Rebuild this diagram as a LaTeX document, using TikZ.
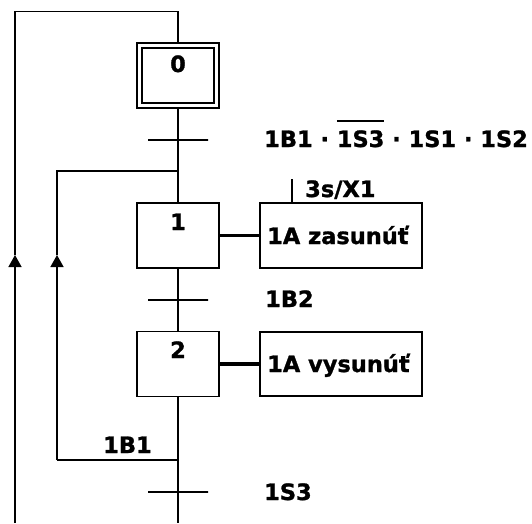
\documentclass[tikz,border=0pt]{standalone}
\usepackage{fontspec}
\setmainfont{DejaVu Sans}[BoldFeatures={FakeBold=1.2}]
\usetikzlibrary{arrows.meta,calc}
\newcommand\myovl[1]{\setbox0\hbox{#1}\rlap{\rule[25pt]{\wd0}{2pt}}\box0\relax}
\begin{document}
\begin{tikzpicture}[x=1pt,y=-1pt,
  flow/.style={line width=1.5pt},
  thickcon/.style={line width=3.5pt},
  stepbox/.style={draw, line width=1.5pt, minimum width=82pt, minimum height=65pt, inner sep=0pt, outer sep=0pt},
  initbox/.style={draw, line width=1.4pt, double, double distance=3.6pt, minimum width=77pt, minimum height=60pt, inner sep=0pt, outer sep=3.2pt},
  actbox/.style={draw, line width=1.5pt, minimum width=162pt, minimum height=65pt, inner sep=0pt, outer sep=0pt},
  transbar/.style={draw, line width=1.3pt, minimum width=60pt, minimum height=0pt, inner sep=0pt, outer sep=0pt},
  lab/.style={font=\bfseries\fontsize{22.5}{27}\selectfont, inner sep=0pt, anchor=base west},
  num/.style={font=\bfseries\fontsize{22.5}{27}\selectfont, inner sep=0pt, anchor=base},
  uparrow/.style={flow, -{Triangle[width=13pt,length=12pt]}}]
\useasboundingbox (0,0) rectangle (532,523);
% steps
\node[initbox] (s0) at (178,75.5) {};
\node[stepbox] (s1) at (178,235.5) {};
\node[stepbox] (s2) at (178,364) {};
\node[num] (n0) at (178,72) {0};
\node[num] (n1) at (178,230) {1};
\node[num] (n2) at (178,358) {2};
% actions
\node[actbox] (a1) at (341,235.5) {};
\node[actbox, minimum height=64pt] (a2) at (341,364) {};
\node[lab] (at1) at (267,244) {1A zasunúť};
\node[lab] (at2) at (267,372) {1A vysunúť};
% transitions
\node[transbar] (t0) at (178,140) {};
\node[transbar] (t1) at (178,300) {};
\node[transbar] (t2) at (178,492) {};
\node[lab] (c0) at (264,147) {1B1 · \myovl{1S3} · 1S1 · 1S2};
\node[lab] (c1) at (265,307) {1B2};
\node[lab] (c2) at (103,453) {1B1};
\node[lab] (c3) at (264,500) {1S3};
\node[lab] (tm) at (305,197) {3s/X1};
% coordinates
\coordinate (j1) at (178,171);
\coordinate (j2) at (178,460);
\coordinate (bot) at (178,523);
\coordinate (lbot) at (15,523);
\coordinate (la) at (15,255);
\coordinate (ltop) at (15,11.7);
\coordinate (mtop) at (178,11.7);
\coordinate (la2) at (57,255);
\coordinate (l2b) at (57,460);
\coordinate (l2t) at (57,171);
\coordinate (tmk) at (292,179);
% main flow
\draw[flow] (s0.south) -- (s1.north);
\draw[flow] (s1.south) -- (s2.north);
\draw[flow] (s2.south) -- (bot);
% outer loop
\draw[uparrow] (lbot) -- (la);
\draw[flow] (la) -- (ltop) -- (mtop) -- (s0.north);
% inner loop
\draw[flow] (j2) -- (l2b);
\draw[uparrow] (l2b) -- (la2);
\draw[flow] (la2) -- (l2t) -- (j1);
% action links
\draw[thickcon] (s1.east) -- (a1.west);
\draw[thickcon] (s2.east) -- (a2.west);
\draw[flow] (tmk) -- (tmk |- a1.north);
\end{tikzpicture}
\end{document}
